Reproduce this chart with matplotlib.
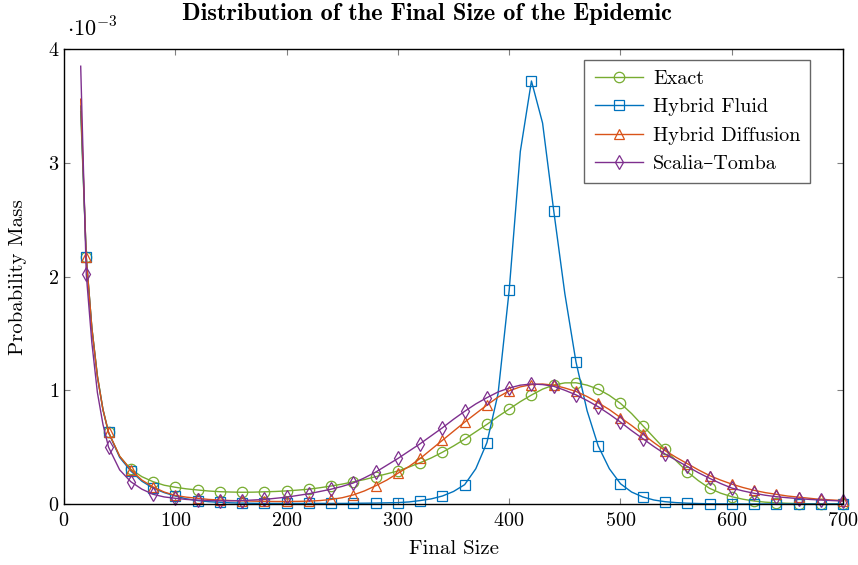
import numpy as np
import matplotlib
matplotlib.use("Agg")
import matplotlib.pyplot as plt

plt.rcParams['font.family'] = ['cmr10', 'DejaVu Serif']
plt.rcParams['mathtext.fontset'] = 'cm'
plt.rcParams['axes.formatter.use_mathtext'] = True

# final size grid (values below are probability mass in units of 1e-3)
final_size = [15, 20, 25, 30, 35] + list(range(40, 701, 10))

exact = [3.45, 2.17, 1.55, 1.13, 0.83, 0.63, 0.42, 0.305, 0.24, 0.196,
         0.165, 0.147, 0.133, 0.123, 0.114, 0.108, 0.105, 0.103, 0.104, 0.107,
         0.11, 0.115, 0.122, 0.13, 0.143, 0.158, 0.175, 0.195, 0.215, 0.24,
         0.265, 0.29, 0.325, 0.363, 0.405, 0.455, 0.51, 0.57, 0.635, 0.70,
         0.77, 0.835, 0.9, 0.958, 1.01, 1.046, 1.065, 1.066, 1.045, 1.01,
         0.955, 0.885, 0.795, 0.69, 0.585, 0.48, 0.38, 0.284, 0.205, 0.138,
         0.095, 0.064, 0.042, 0.026, 0.016, 0.01, 0.006, 0.004, 0.002, 0.001,
         0.0005, 0.0]

hybrid_fluid = [3.5, 2.17, 1.55, 1.12, 0.83, 0.63, 0.41, 0.29, 0.2, 0.14,
                0.1, 0.07, 0.045, 0.03, 0.02, 0.015, 0.01, 0.008, 0.006, 0.005,
                0.005, 0.005, 0.005, 0.005, 0.005, 0.005, 0.005, 0.006, 0.007, 0.008,
                0.01, 0.012, 0.018, 0.03, 0.045, 0.07, 0.11, 0.17, 0.31, 0.54,
                0.97, 1.88, 3.1, 3.72, 3.35, 2.58, 1.85, 1.25, 0.82, 0.51,
                0.31, 0.178, 0.105, 0.062, 0.035, 0.02, 0.012, 0.007, 0.004, 0.002,
                0.001, 0.001, 0.0, 0.0, 0.0, 0.0, 0.0, 0.0, 0.0, 0.0,
                0.0, 0.0]

hybrid_diffusion = [3.56, 2.17, 1.55, 1.12, 0.83, 0.63, 0.42, 0.30, 0.21, 0.15,
                    0.105, 0.075, 0.06, 0.05, 0.04, 0.035, 0.03, 0.028, 0.025, 0.023,
                    0.022, 0.022, 0.023, 0.025, 0.03, 0.04, 0.055, 0.08, 0.115, 0.16,
                    0.21, 0.27, 0.33, 0.40, 0.48, 0.56, 0.64, 0.72, 0.795, 0.87,
                    0.94, 0.995, 1.03, 1.05, 1.055, 1.045, 1.02, 0.99, 0.945, 0.89,
                    0.83, 0.76, 0.69, 0.615, 0.54, 0.47, 0.41, 0.355, 0.30, 0.25,
                    0.21, 0.175, 0.145, 0.12, 0.1, 0.085, 0.07, 0.06, 0.05, 0.04,
                    0.035, 0.03]

scalia_tomba = [3.85, 2.02, 1.42, 0.98, 0.70, 0.50, 0.30, 0.196, 0.13, 0.085,
                0.062, 0.05, 0.04, 0.034, 0.03, 0.028, 0.028, 0.03, 0.035, 0.04,
                0.05, 0.06, 0.075, 0.09, 0.11, 0.13, 0.155, 0.185, 0.23, 0.28,
                0.34, 0.40, 0.465, 0.53, 0.60, 0.67, 0.745, 0.815, 0.88, 0.935,
                0.985, 1.02, 1.045, 1.055, 1.05, 1.035, 1.0, 0.96, 0.91, 0.855,
                0.79, 0.72, 0.645, 0.575, 0.505, 0.44, 0.385, 0.33, 0.275, 0.226,
                0.18, 0.14, 0.115, 0.094, 0.077, 0.064, 0.055, 0.047, 0.04, 0.035,
                0.03, 0.026]

series = [
    ("Exact", exact, "#77AC30", "o"),
    ("Hybrid Fluid", hybrid_fluid, "#0072BD", "s"),
    ("Hybrid Diffusion", hybrid_diffusion, "#D95319", "^"),
    ("Scalia\u2013Tomba", scalia_tomba, "#7E2F8E", "d"),
]

x = np.array(final_size)
marks = list(x % 20 == 0)

fig = plt.figure(figsize=(8.58, 5.65), dpi=100)
ax = fig.add_axes([0.0746, 0.108, 0.908, 0.805])

for name, vals, col, mk in series:
    ax.plot(x, vals, color=col, lw=1.0, marker=mk, markevery=marks,
            markersize=7.5, markerfacecolor='none', markeredgecolor=col,
            markeredgewidth=0.9, label=name, clip_on=False)

ax.set_xlim(0, 700)
ax.set_ylim(0, 4)
ax.set_xticks(range(0, 701, 100))
ax.set_yticks([0, 1, 2, 3, 4])
ax.tick_params(direction='in', top=True, right=True, color='0.5',
               length=4, labelsize=14.5)
ax.tick_params(axis='x', pad=6)
for s in ax.spines.values():
    s.set_linewidth(1.0)

ax.set_xlabel("Final Size", fontsize=15)
ax.set_ylabel("Probability Mass", fontsize=15)
ax.xaxis.set_label_coords(0.5, -0.08)
ax.yaxis.set_label_coords(-0.047, 0.5)
fig.text(0.498, 0.976, "Distribution of the Final Size of the Epidemic",
         fontsize=17.5, family=['cmb10', 'DejaVu Serif'], ha='center', va='center')
ax.text(0.004, 1.02, r"$\cdot 10^{-3}$", transform=ax.transAxes,
        fontsize=16, ha='left', va='bottom')

leg = ax.legend(loc='upper right', bbox_to_anchor=(0.958, 0.976),
                borderaxespad=0, fontsize=14.5, frameon=True, fancybox=False,
                handlelength=2.4, borderpad=0.5, labelspacing=0.5,
                handletextpad=0.5)
leg.get_frame().set_edgecolor('0.25')
leg.get_frame().set_linewidth(1.0)

fig.savefig("out.png", dpi=100)
